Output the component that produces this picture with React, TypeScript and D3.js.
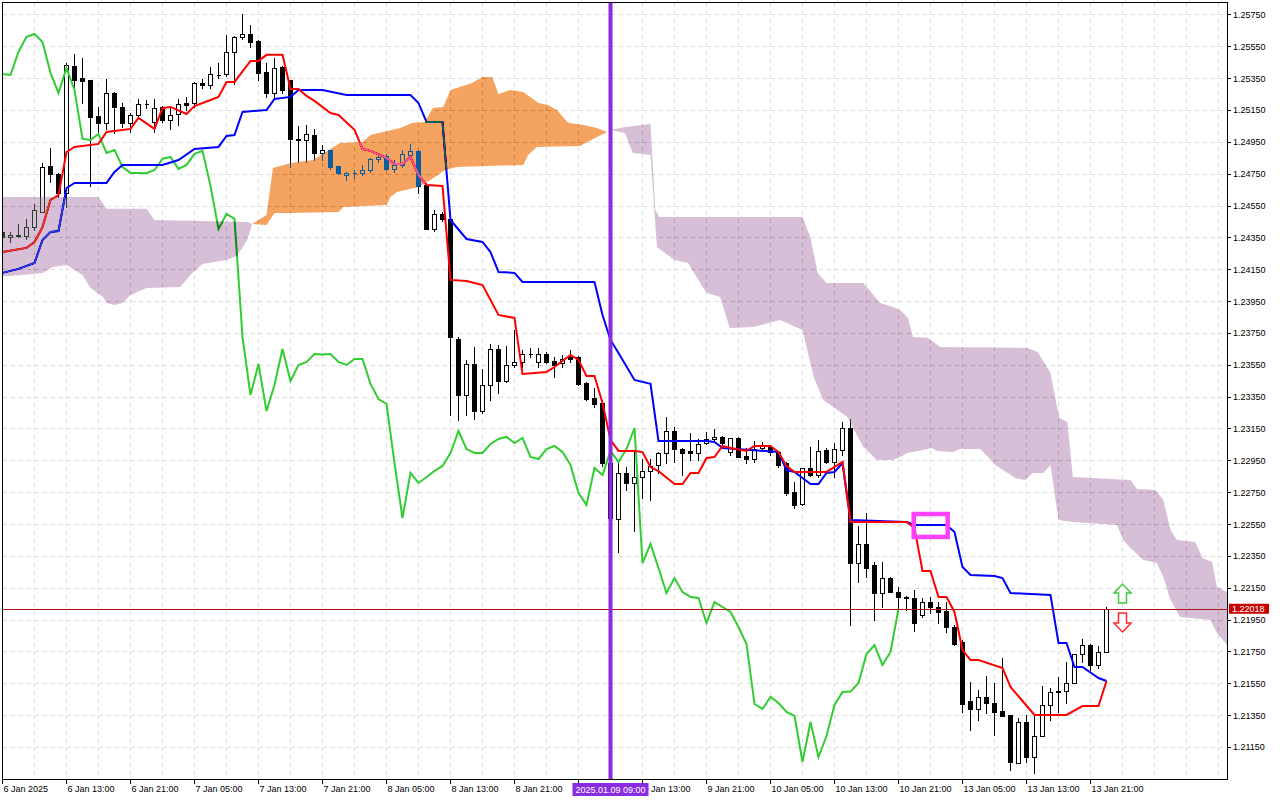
import * as d3 from "d3";

// EURUSD-like H1 candles, 6 Jan 2025 .. 13 Jan 2025: [open, high, low, close]
const candles: [number, number, number, number][] = [
  [1.24384, 1.2439, 1.2434, 1.24353], [1.24353, 1.24384, 1.24321, 1.24365], [1.24365, 1.24434, 1.24353, 1.24359],
  [1.24359, 1.24466, 1.2434, 1.24415], [1.24415, 1.2456, 1.24397, 1.24522], [1.2451, 1.24817, 1.2451, 1.24792],
  [1.24799, 1.24912, 1.24698, 1.24748], [1.24748, 1.24752, 1.24604, 1.24629], [1.24629, 1.25445, 1.24541, 1.25433],
  [1.25426, 1.25502, 1.25295, 1.25339], [1.25351, 1.25477, 1.25194, 1.25332], [1.25339, 1.25341, 1.24673, 1.25106],
  [1.25113, 1.25169, 1.25012, 1.25069], [1.25069, 1.25345, 1.25031, 1.25257], [1.25257, 1.25263, 1.25006, 1.25169],
  [1.25169, 1.25194, 1.25043, 1.25069], [1.25069, 1.25131, 1.25012, 1.25119], [1.25119, 1.25219, 1.251, 1.25188],
  [1.25188, 1.25213, 1.25163, 1.25185], [1.25075, 1.25219, 1.25012, 1.25163], [1.25169, 1.25175, 1.25075, 1.25087],
  [1.25087, 1.25169, 1.25031, 1.25119], [1.25125, 1.25219, 1.25056, 1.25188], [1.25194, 1.25232, 1.2515, 1.25182],
  [1.25194, 1.25326, 1.25169, 1.2532], [1.2532, 1.25345, 1.25288, 1.25307], [1.25307, 1.2542, 1.25288, 1.25376],
  [1.25367, 1.25445, 1.25351, 1.2537], [1.25376, 1.25621, 1.25364, 1.25514], [1.25514, 1.25615, 1.25313, 1.25609],
  [1.25609, 1.25753, 1.25596, 1.25627], [1.25627, 1.25684, 1.25546, 1.25577], [1.25583, 1.2559, 1.25339, 1.25383],
  [1.25389, 1.25445, 1.25232, 1.25257], [1.25257, 1.25477, 1.25226, 1.25414], [1.2542, 1.25426, 1.25257, 1.25276],
  [1.25339, 1.25339, 1.24792, 1.24968], [1.24968, 1.2505, 1.24824, 1.24962], [1.24962, 1.25056, 1.24824, 1.24999],
  [1.24993, 1.25031, 1.24836, 1.2488], [1.2488, 1.2493, 1.24836, 1.24899], [1.24899, 1.24899, 1.2478, 1.24792],
  [1.24799, 1.24799, 1.24748, 1.24755], [1.24742, 1.24761, 1.24711, 1.24755], [1.24755, 1.24773, 1.24723, 1.24753],
  [1.24755, 1.24805, 1.24742, 1.24773], [1.24773, 1.24849, 1.24761, 1.24843], [1.24843, 1.24874, 1.24824, 1.24855],
  [1.24861, 1.24874, 1.24773, 1.2478], [1.2478, 1.24836, 1.24761, 1.24805], [1.24805, 1.24899, 1.24792, 1.24874],
  [1.24868, 1.24937, 1.24843, 1.24893], [1.24893, 1.24899, 1.24629, 1.24673], [1.24679, 1.24692, 1.24403, 1.24403],
  [1.24403, 1.24522, 1.2439, 1.24497], [1.24497, 1.2451, 1.24453, 1.24466], [1.24466, 1.24472, 1.23235, 1.23725],
  [1.23712, 1.23725, 1.23203, 1.2336], [1.2336, 1.2358, 1.23235, 1.23555], [1.23555, 1.23662, 1.2321, 1.2326],
  [1.2326, 1.23524, 1.23247, 1.23423], [1.23423, 1.23681, 1.23329, 1.23649], [1.23649, 1.23674, 1.23373, 1.23448],
  [1.23448, 1.23668, 1.23442, 1.23549], [1.23549, 1.23769, 1.23536, 1.23568], [1.23568, 1.23643, 1.23536, 1.23618],
  [1.23618, 1.23656, 1.23599, 1.23615], [1.23568, 1.23656, 1.23536, 1.23618], [1.23618, 1.2363, 1.23561, 1.23568],
  [1.23574, 1.23599, 1.23473, 1.23549], [1.23561, 1.23612, 1.23536, 1.23587], [1.23599, 1.23643, 1.23568, 1.23587],
  [1.23599, 1.23605, 1.23424, 1.2343], [1.23436, 1.2344, 1.23329, 1.23335], [1.23342, 1.23404, 1.23285, 1.23304],
  [1.2331, 1.23329, 1.22915, 1.22933], [1.22933, 1.22965, 1.22544, 1.22588], [1.22582, 1.22933, 1.22374, 1.22871],
  [1.22871, 1.22908, 1.22764, 1.22808], [1.22808, 1.23002, 1.22506, 1.22845], [1.22845, 1.22958, 1.22714, 1.22883],
  [1.22883, 1.22958, 1.22701, 1.22915], [1.22921, 1.23002, 1.22871, 1.22996], [1.22996, 1.23222, 1.22933, 1.23134],
  [1.23134, 1.23159, 1.2294, 1.23021], [1.23021, 1.23028, 1.22858, 1.22996], [1.23009, 1.23122, 1.22952, 1.22996],
  [1.22996, 1.23084, 1.22952, 1.23053], [1.23059, 1.23128, 1.23053, 1.23084], [1.23084, 1.23147, 1.23078, 1.23097],
  [1.23097, 1.23103, 1.23053, 1.23059], [1.23003, 1.23091, 1.22984, 1.23091], [1.23091, 1.23097, 1.22971, 1.22971],
  [1.22977, 1.23028, 1.22933, 1.22958], [1.22958, 1.23072, 1.2294, 1.23021], [1.23028, 1.23065, 1.23009, 1.2304],
  [1.23034, 1.23046, 1.22984, 1.23003], [1.23003, 1.23003, 1.22908, 1.22921], [1.22933, 1.2294, 1.22732, 1.22745],
  [1.22751, 1.22814, 1.22651, 1.2267], [1.22676, 1.22902, 1.2267, 1.22902], [1.22902, 1.23034, 1.22852, 1.22858],
  [1.22858, 1.23078, 1.22845, 1.23009], [1.23015, 1.23028, 1.22933, 1.2294], [1.2294, 1.23059, 1.22845, 1.23021],
  [1.23015, 1.23191, 1.22984, 1.23153], [1.23153, 1.2321, 1.21916, 1.22305], [1.22305, 1.22538, 1.22186, 1.22425],
  [1.22425, 1.22619, 1.22217, 1.22274], [1.22293, 1.22312, 1.21947, 1.22117], [1.22117, 1.22312, 1.22029, 1.22211],
  [1.22211, 1.22217, 1.22123, 1.22123], [1.22123, 1.22155, 1.22023, 1.22092], [1.22092, 1.22098, 1.2201, 1.22086],
  [1.22086, 1.22136, 1.21878, 1.21929], [1.21979, 1.22086, 1.21966, 1.2206], [1.2206, 1.22092, 1.21991, 1.22029],
  [1.22029, 1.2206, 1.21929, 1.21998], [1.22004, 1.2206, 1.21872, 1.21903], [1.21903, 1.21916, 1.2179, 1.21797],
  [1.21809, 1.21822, 1.2137, 1.2142], [1.21439, 1.21558, 1.21257, 1.21389], [1.21389, 1.21508, 1.21319, 1.21464],
  [1.21464, 1.21596, 1.21364, 1.21426], [1.21426, 1.21552, 1.21225, 1.2137], [1.21376, 1.21709, 1.21345, 1.21345],
  [1.21351, 1.21351, 1.21005, 1.21056], [1.21049, 1.21332, 1.21049, 1.21307], [1.21307, 1.21351, 1.21056, 1.21087],
  [1.21087, 1.21351, 1.20987, 1.21219], [1.21219, 1.21533, 1.21219, 1.21414], [1.21414, 1.2152, 1.21319, 1.21495],
  [1.21502, 1.21589, 1.2137, 1.21498], [1.21502, 1.21684, 1.21426, 1.21552], [1.21552, 1.21734, 1.21552, 1.21734],
  [1.21734, 1.21828, 1.21684, 1.2179], [1.2179, 1.21797, 1.21633, 1.21665], [1.21665, 1.21784, 1.21646, 1.21747],
  [1.21747, 1.22029, 1.21747, 1.22018],
];

// Ichimoku lines, read as [bar, price] vertices
const tenkan: [number, number][] = [
  [0, 1.24258], [3, 1.24284], [4, 1.24321], [5, 1.24415], [6, 1.24585], [7, 1.24616], [8, 1.24886], [9, 1.24918],
  [12, 1.24937], [13, 1.25012], [16, 1.25031], [17, 1.251], [19, 1.25031], [20, 1.25163], [21, 1.25169], [23, 1.25125],
  [24, 1.25175], [26, 1.25213], [27, 1.25232], [28, 1.25326], [29, 1.25326], [31, 1.25458], [32, 1.25458], [33, 1.25496],
  [35, 1.25496], [36, 1.25282], [37, 1.25282], [38, 1.25238], [39, 1.25207], [41, 1.25131], [42, 1.25119], [44, 1.25025],
  [45, 1.24905], [46, 1.24893], [48, 1.24849], [49, 1.24811], [50, 1.24811], [51, 1.24855], [52, 1.24742], [53, 1.24679],
  [55, 1.24673], [56, 1.24083], [58, 1.24076], [59, 1.24064], [60, 1.24051], [62, 1.23863], [64, 1.23844], [65, 1.23492],
  [68, 1.23505], [69, 1.23536], [71, 1.23612], [72, 1.2358], [73, 1.2348], [74, 1.2348], [75, 1.2331], [76, 1.23078],
  [77, 1.23009], [79, 1.23009], [80, 1.23002], [81, 1.22908], [82, 1.22883], [84, 1.22801], [85, 1.22801], [86, 1.22871],
  [87, 1.22871], [88, 1.22965], [89, 1.22971], [90, 1.2304], [91, 1.23028], [93, 1.23009], [94, 1.2304], [96, 1.2304],
  [97, 1.23002], [98, 1.22915], [99, 1.22877], [103, 1.22877], [105, 1.2294], [106, 1.22563], [113, 1.22563],
  [114, 1.22525], [115, 1.22255], [116, 1.22255], [117, 1.22092], [118, 1.22092], [119, 1.21998], [120, 1.21759],
  [121, 1.21696], [122, 1.21696], [125, 1.21646], [126, 1.21527], [129, 1.21351], [133, 1.21351], [135, 1.21407],
  [137, 1.21407], [138, 1.21564],
];

const kijun: [number, number][] = [
  [0, 1.24127], [2, 1.24152], [4, 1.24189], [5, 1.24334], [6, 1.24384], [7, 1.2439], [8, 1.2466], [9, 1.24692],
  [13, 1.24692], [14, 1.24761], [15, 1.24805], [20, 1.24805], [22, 1.24836], [24, 1.24905], [27, 1.24918], [28, 1.24987],
  [29, 1.24993], [30, 1.25138], [33, 1.2515], [34, 1.25219], [36, 1.25232], [37, 1.25276], [40, 1.25276], [43, 1.25244],
  [51, 1.25244], [52, 1.25194], [53, 1.25075], [55, 1.25075], [56, 1.24459], [58, 1.2434], [60, 1.24321], [61, 1.24258],
  [62, 1.24133], [64, 1.24127], [65, 1.2407], [74, 1.2407], [75, 1.23863], [76, 1.23706], [77, 1.23624], [79, 1.23455],
  [81, 1.2343], [82, 1.23072], [88, 1.23072], [89, 1.23065], [90, 1.23028], [97, 1.23002], [98, 1.22889], [99, 1.22877],
  [101, 1.22801], [102, 1.22801], [103, 1.22871], [104, 1.22877], [105, 1.22933], [106, 1.22575], [113, 1.22563],
  [114, 1.22544], [118, 1.22544], [119, 1.225], [120, 1.2228], [121, 1.2223], [124, 1.22224], [125, 1.22211],
  [126, 1.22117], [131, 1.22104], [132, 1.21803], [133, 1.21803], [134, 1.21652], [135, 1.21652], [137, 1.21583],
  [138, 1.21564],
];

// Kumo (shifted 26 bars ahead), upper / lower edges of each cloud segment
const bearCloud1Upper: [number, number][] = [
  [-1, 1.24604], [12, 1.24604], [13, 1.24529], [18, 1.24529], [19, 1.24459], [30.6, 1.24447], [31.2, 1.24434],
];
const bearCloud1Lower: [number, number][] = [
  [-1, 1.24101], [3.8, 1.2412], [5, 1.24127], [6.3, 1.24164], [8, 1.24177], [10, 1.24114], [11, 1.24032],
  [12.6, 1.23976], [13, 1.23938], [14, 1.23926], [15, 1.23938], [16, 1.23988], [18, 1.24032], [22.2, 1.24039],
  [23.7, 1.24127], [25, 1.24183], [28, 1.24208], [29.3, 1.24233], [30.6, 1.24334], [31.2, 1.24434],
];
const bullCloudUpper: [number, number][] = [
  [31.2, 1.24434], [33, 1.24491], [33.8, 1.24786], [36, 1.24817], [38.8, 1.24836], [42.2, 1.24943], [45, 1.24949],
  [46, 1.24993], [49.7, 1.25037], [51.3, 1.25069], [52.8, 1.25075], [53.8, 1.25163], [55.1, 1.25169], [56, 1.25276],
  [58.7, 1.2532], [60, 1.25357], [61.2, 1.25357], [62, 1.25251], [63.5, 1.25276], [65.1, 1.25263], [67, 1.25194],
  [68.2, 1.25182], [69.3, 1.2515], [70.7, 1.25069], [72.6, 1.25056], [74.3, 1.25037], [75.6, 1.25012], [76, 1.25025],
];
const bullCloudLower: [number, number][] = [
  [31.2, 1.24434], [33, 1.24428], [34, 1.24503], [36, 1.24503], [42, 1.2451], [42.6, 1.24541], [48, 1.24554],
  [48.5, 1.24604], [49.3, 1.24635], [52, 1.24667], [53.5, 1.24711], [55.3, 1.24773], [56.8, 1.24792], [65.1, 1.24805],
  [65.7, 1.24868], [66.8, 1.24918], [72.2, 1.24924], [74.3, 1.24981], [75.6, 1.25012], [76, 1.25025],
];
const bearCloud2Upper: [number, number][] = [
  [76, 1.25025], [77.8, 1.25043], [81, 1.25062], [81.2, 1.2488], [81.6, 1.24522], [82.1, 1.24478], [100, 1.24478],
  [101, 1.24346], [101.9, 1.24127], [103, 1.24064], [107.6, 1.24064], [109.7, 1.23938], [111.3, 1.23913],
  [112.2, 1.23894], [113.2, 1.23844], [113.8, 1.23725], [115.7, 1.23718], [117.2, 1.23662], [128.1, 1.23656],
  [129.4, 1.2363], [131, 1.23499], [131.6, 1.23342], [132.1, 1.23216], [133.1, 1.23191], [133.8, 1.22845],
  [141, 1.22827], [141.8, 1.2277], [144.1, 1.22764], [145.1, 1.22701], [146, 1.22513], [146.8, 1.2245],
  [149.1, 1.22437], [150, 1.22337], [151.2, 1.22312], [151.8, 1.22155], [153.1, 1.22123], [155, 1.22073],
];
const bearCloud2Lower: [number, number][] = [
  [76, 1.25025], [77.8, 1.25006], [78.8, 1.2488], [81, 1.24868], [81.8, 1.2429], [84, 1.24208], [85.7, 1.24189],
  [87.6, 1.24032], [88.1, 1.24001], [89.7, 1.23976], [90.9, 1.23781], [93.8, 1.23787], [97.2, 1.23831], [100, 1.23769],
  [101.4, 1.23473], [102.6, 1.23329], [105.6, 1.23222], [107.6, 1.23034], [109.3, 1.22952], [111.3, 1.22952],
  [112.2, 1.22971], [113.1, 1.22996], [115.1, 1.23015], [116.2, 1.23028], [116.8, 1.23009], [118.8, 1.23002],
  [119.7, 1.23021], [122.2, 1.23021], [123.2, 1.22971], [124.1, 1.22921], [126.6, 1.22839], [127.8, 1.22827],
  [128.8, 1.22871], [130.1, 1.22871], [131, 1.22921], [132, 1.22575], [133.8, 1.22563], [139.3, 1.22544],
  [140.1, 1.2245], [141, 1.224], [142.6, 1.22324], [144.3, 1.22305], [145.1, 1.22217], [146, 1.22073],
  [147.2, 1.21966], [151, 1.21947], [151.8, 1.21866], [153.1, 1.2179], [155, 1.21759],
];

const chikouShift = 26;

const priceTicks = [
  1.2115, 1.2135, 1.2155, 1.2175, 1.2195, 1.2215, 1.2235, 1.2255, 1.2275, 1.2295, 1.2315, 1.2335,
  1.2355, 1.2375, 1.2395, 1.2415, 1.2435, 1.2455, 1.2475, 1.2495, 1.2515, 1.2535, 1.2555, 1.2575,
];
const timeTickBars = [0, 8, 16, 24, 32, 40, 48, 56, 64, 72, 80, 88, 96, 104, 112, 120, 128, 136];
const timeTickLabels = [
  "6 Jan 2025", "6 Jan 13:00", "6 Jan 21:00", "7 Jan 05:00", "7 Jan 13:00", "7 Jan 21:00",
  "8 Jan 05:00", "8 Jan 13:00", "8 Jan 21:00", "9 Jan 05:00", "9 Jan 13:00", "9 Jan 21:00",
  "10 Jan 05:00", "10 Jan 13:00", "10 Jan 21:00", "13 Jan 05:00", "13 Jan 13:00", "13 Jan 21:00",
];

const markerBar = 76;
const markerLabel = "2025.01.09 09:00";
const bidPrice = 1.22018;

// magenta box around the tenkan/kijun split, and the two signal arrows
const boxBars = [113.9, 118.15];
const boxPrices = [1.22613, 1.22469];
const signalBars = [140, 140];
const signalPrices = [1.22173, 1.21872];
const signalDirs = ["up", "down"];

const W = 1280;
const H = 800;
const left = 2.5;
const top = 2.5;
const right = 1227;
const bottom = 779;
const barStep = 8;
const font = "'Liberation Sans', Arial, sans-serif";

export default function App() {
  const x = d3.scaleLinear().domain([0, 1]).range([left, left + barStep]);
  const y = d3.scaleLinear().domain([1.20949, 1.25828]).range([779, 2]);

  const line = d3
    .line<[number, number]>()
    .x((d) => x(d[0]))
    .y((d) => y(d[1]));
  const cloud = (up: [number, number][], low: [number, number][]) =>
    line([...up, ...low.slice().reverse()]) + "Z";

  const chikou: [number, number][] = candles
    .slice(chikouShift)
    .map((c, i) => [i, c[3]]);

  const gridBars = d3.range(0, 156, 4);
  const snap = (v: number) => Math.round(v) + 0.5;
  const markerX = x(markerBar);

  return (
    <>
      <style>{"body{margin:0}"}</style>
      <svg width={W} height={H} style={{ display: "block", fontFamily: font }}>
        <defs>
          <clipPath id="plot">
            <rect x={left} y={top} width={right - left} height={bottom - top} />
          </clipPath>
        </defs>
        <rect width={W} height={H} fill="#fff" />

        <g clipPath="url(#plot)">
          {/* white backdrop inside the clipped group so the blend has something to work on */}
          <rect x={0} y={0} width={W} height={H} fill="#fff" />

          {/* grid */}
          <g stroke="#dcdcdc" strokeDasharray="4 4" shapeRendering="crispEdges">
            {priceTicks.map((p) => (
              <line key={p} x1={left} x2={right} y1={snap(y(p))} y2={snap(y(p))} />
            ))}
            {gridBars.map((b) => (
              <line key={b} x1={x(b)} x2={x(b)} y1={top} y2={bottom} />
            ))}
          </g>

          {/* candles */}
          <g shapeRendering="crispEdges">
            {candles.map(([o, h, l, c], i) => {
              const cx = x(i);
              const yT = snap(y(Math.max(o, c)));
              const yB = snap(y(Math.min(o, c)));
              return (
                <g key={i}>
                  <line x1={cx} x2={cx} y1={Math.round(y(h))} y2={Math.round(y(l)) + 1} stroke="#000" />
                  <path
                    d={`M${cx - 2},${yT}H${cx + 2}V${yB}H${cx - 2}Z`}
                    fill={c > o ? "#fff" : "#000"}
                    stroke="#000"
                  />
                </g>
              );
            })}
          </g>

          {/* ichimoku lines */}
          <path d={line(chikou) ?? ""} fill="none" stroke="#32cd32" strokeWidth={2} />
          <path d={line(kijun) ?? ""} fill="none" stroke="#0000ff" strokeWidth={2} />
          <path d={line(tenkan) ?? ""} fill="none" stroke="#ff0000" strokeWidth={2} />

          {/* kumo drawn as XOR-like fill, as the terminal does */}
          <path d={cloud(bearCloud1Upper, bearCloud1Lower)} fill="rgb(39,64,39)" style={{ mixBlendMode: "difference" }} />
          <path d={cloud(bullCloudUpper, bullCloudLower)} fill="rgb(11,91,159)" style={{ mixBlendMode: "difference" }} />
          <path d={cloud(bearCloud2Upper, bearCloud2Lower)} fill="rgb(39,64,39)" style={{ mixBlendMode: "difference" }} />

          {/* bid line */}
          <line
            x1={left}
            x2={right}
            y1={snap(y(bidPrice))}
            y2={snap(y(bidPrice))}
            stroke="#b01515"
            shapeRendering="crispEdges"
          />

          {/* box */}
          <rect
            x={x(boxBars[0])}
            y={y(boxPrices[0])}
            width={x(boxBars[1]) - x(boxBars[0])}
            height={y(boxPrices[1]) - y(boxPrices[0])}
            fill="none"
            stroke="#ff40ff"
            strokeWidth={4.5}
          />

          {/* signal arrows */}
          {signalBars.map((b, i) => {
            const cx = x(b);
            const ty = y(signalPrices[i]);
            const s = signalDirs[i] === "up" ? 1 : -1;
            const d = `M${cx},${ty}L${cx + 8.5},${ty + 9 * s}L${cx + 4},${ty + 9 * s}L${cx + 4},${ty + 19 * s}L${cx - 4},${ty + 19 * s}L${cx - 4},${ty + 9 * s}L${cx - 8.5},${ty + 9 * s}Z`;
            return (
              <path
                key={i}
                d={d}
                fill="#fff"
                stroke={s > 0 ? "#3ccc3c" : "#ff2a2a"}
                strokeWidth={1.5}
                strokeLinejoin="miter"
              />
            );
          })}

          {/* vertical marker */}
          <line x1={markerX} x2={markerX} y1={top} y2={bottom} stroke="#8a2be2" strokeWidth={4} />
        </g>

        {/* frame */}
        <rect
          x={left}
          y={top}
          width={right - left}
          height={bottom - top}
          fill="none"
          stroke="#000"
          shapeRendering="crispEdges"
        />

        {/* price axis */}
        <g fontSize={9} fill="#000">
          {priceTicks.map((p) => (
            <g key={p}>
              <line x1={right} x2={right + 4} y1={snap(y(p))} y2={snap(y(p))} stroke="#000" shapeRendering="crispEdges" />
              <text x={right + 6} y={y(p) + 3.5}>
                {p.toFixed(5)}
              </text>
            </g>
          ))}
          <rect x={right + 2} y={y(bidPrice) - 5} width={40} height={10} fill="#c80000" />
          <text x={right + 5} y={y(bidPrice) + 3.5} fill="#fff">
            {bidPrice.toFixed(5)}
          </text>
        </g>

        {/* time axis; a label wholly under the marker's own label is not drawn, one partly under it is covered */}
        <g fontSize={9} fill="#000">
          {timeTickBars.map((b, i) => {
            const tx = x(b);
            const hidden = tx > markerX - 45 && tx < markerX - 10;
            return (
              <g key={b}>
                <line x1={tx} x2={tx} y1={bottom} y2={bottom + 5} stroke="#000" shapeRendering="crispEdges" />
                {!hidden && (
                  <text x={tx + 1} y={792}>
                    {timeTickLabels[i]}
                  </text>
                )}
              </g>
            );
          })}
          <rect x={markerX - 38} y={783} width={76} height={13} fill="#8a2be2" />
          <text x={markerX} y={793} fill="#fff" textAnchor="middle">
            {markerLabel}
          </text>
        </g>
      </svg>
    </>
  );
}
